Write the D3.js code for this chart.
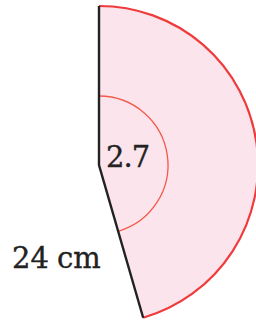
<!DOCTYPE html>
<html>
<head>
  <title>Sector</title>
  <style>
    html, body { margin:0; padding:0; background:#fff; }
    svg { display:block; }
    text { font-family: "DejaVu Serif", serif; fill:#222; stroke:#222; stroke-width:0.35px; }
  </style>
  <script src="https://cdnjs.cloudflare.com/ajax/libs/d3/7.8.5/d3.min.js"></script>
</head>
<body>
<svg id="chart"></svg>
<script>
// values shown on the figure
var angleLabels = ["2.7"];
var radiusLabels = ["24 cm"];
var sectorAngle = [2.7];      // radians, as labelled
var sectorRadius = [24];      // cm

var width = 256, height = 322;
var cx = 99, cy = 165;

var svg = d3.select("#chart")
    .attr("width", width)
    .attr("height", height);

// the sketch is not to scale, the drawn opening is a bit wider than 2.7
var angleScale = d3.scaleLinear().domain([0, 2.7]).range([0, 2.86]);
var radiusScale = d3.scaleLinear().domain([0, 24]).range([0, 159]);

var g = svg.append("g").attr("transform", "translate(" + cx + "," + cy + ")");

var a1 = angleScale(sectorAngle[0]);
var R = radiusScale(sectorRadius[0]);

// filled sector
g.append("path")
    .attr("d", d3.arc()({innerRadius:0, outerRadius:R, startAngle:0, endAngle:a1}))
    .attr("fill", "#fce4ec");

// red outer arc
g.append("path")
    .attr("d", d3.arc()({innerRadius:R, outerRadius:R, startAngle:0, endAngle:a1}))
    .attr("fill", "none")
    .attr("stroke", "#ef3b3b")
    .attr("stroke-width", 2.2);

// angle marker
g.append("path")
    .attr("d", d3.arc()({innerRadius:69, outerRadius:69, startAngle:0, endAngle:a1}))
    .attr("fill", "none")
    .attr("stroke", "#f25a4a")
    .attr("stroke-width", 1.3);

// the two radii
var ends = [0, a1].map(function(a) { return [R * Math.sin(a), -R * Math.cos(a)]; });
g.append("path")
    .attr("d", d3.line()([ends[0], [0, 0], ends[1]]))
    .attr("fill", "none")
    .attr("stroke", "#222")
    .attr("stroke-width", 2.4)
    .attr("stroke-linejoin", "miter");

g.append("text")
    .attr("x", 7).attr("y", 2)
    .attr("font-size", 29)
    .attr("letter-spacing", -1)
    .text(angleLabels[0]);

svg.append("text")
    .attr("x", 12).attr("y", 268)
    .attr("font-size", 29)
    .attr("word-spacing", -1)
    .text(radiusLabels[0]);
</script>
</body>
</html>
